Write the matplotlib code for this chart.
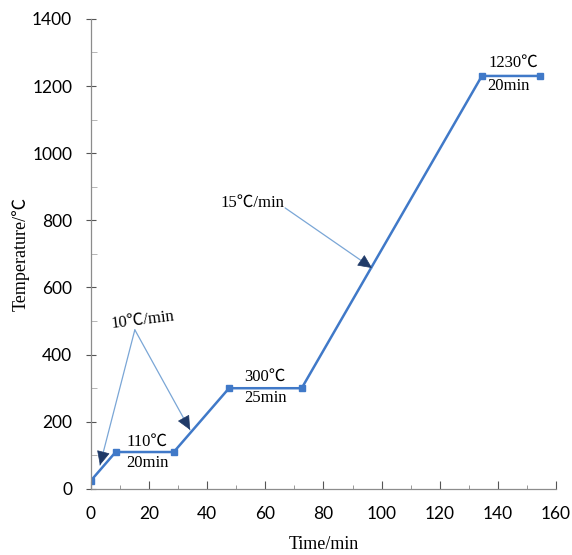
import matplotlib
matplotlib.use("Agg")
import matplotlib.pyplot as plt
from matplotlib.ticker import MultipleLocator

# heating programme (time in min, temperature in degC)
time_min = [0, 8.5, 28.5, 47.5, 72.5, 134.5, 154.5]
temp_c = [25, 110, 110, 300, 300, 1230, 1230]

# plateau labels: (text, x, y)
hold_labels = [
    ("110℃", 19.3, 140), ("20min", 19.3, 77),
    ("300℃", 60.0, 334), ("25min", 60.0, 271),
    ("1230℃", 145.2, 1269), ("20min", 143.5, 1200),
]

serif = ["Liberation Serif", "Noto Sans CJK SC", "DejaVu Serif"]
sans = ["Lato", "DejaVu Sans"]

line_col = "#4079c8"
arrow_col = "#7aa6d6"
head_col = "#1f3a68"

fig = plt.figure(figsize=(5.72, 5.55), dpi=100)
ax = fig.add_axes([0.159, 0.119, 0.813, 0.847])

ax.plot(time_min, temp_c, color=line_col, lw=1.8, marker="s", ms=5,
        markerfacecolor=line_col, markeredgecolor=line_col)

for txt, x, y in hold_labels:
    ax.text(x, y, txt, ha="center", va="center", fontsize=12, family=serif)


def arrow(ax, start, end):
    # thin light shaft plus dark filled head
    ax.annotate("", xy=end, xytext=start,
                arrowprops=dict(arrowstyle="-", color=arrow_col, lw=0.9,
                                shrinkA=0, shrinkB=0))
    f = 0.06
    mid = (end[0] - f * (end[0] - start[0]), end[1] - f * (end[1] - start[1]))
    ax.annotate("", xy=end, xytext=mid,
                arrowprops=dict(arrowstyle="-|>,head_length=0.9,head_width=0.42",
                                color=head_col, lw=0.5, shrinkA=0, shrinkB=0))


apex = (15.1, 474)
arrow(ax, apex, (3.1, 71))
arrow(ax, apex, (34.1, 176))
ax.text(17.9, 503, "10℃/min", ha="center", va="center", fontsize=12,
        family=serif, rotation=7)

arrow(ax, (66.8, 837), (96.7, 658))
ax.text(55.5, 853, "15℃/min", ha="center", va="center", fontsize=12, family=serif)

ax.set_xlim(0, 160)
ax.set_ylim(0, 1400)
ax.xaxis.set_major_locator(MultipleLocator(20))
ax.xaxis.set_minor_locator(MultipleLocator(10))
ax.yaxis.set_major_locator(MultipleLocator(200))
ax.yaxis.set_minor_locator(MultipleLocator(100))

for s in ["top", "right"]:
    ax.spines[s].set_visible(False)
for s in ["left", "bottom"]:
    ax.spines[s].set_color("#8c8c8c")
    ax.spines[s].set_linewidth(0.9)

ax.tick_params(axis="x", which="major", direction="in", length=6, color="#555555",
               pad=12, labelsize=12.5)
ax.tick_params(axis="x", which="minor", direction="in", length=3, color="#888888")
ax.tick_params(axis="y", which="major", direction="inout", length=7, color="#555555",
               pad=10, labelsize=12.5)
ax.tick_params(axis="y", which="minor", direction="in", length=4, color="#aaaaaa")
for lab in ax.get_xticklabels() + ax.get_yticklabels():
    lab.set_family(sans)

ax.set_xlabel("Time/min", family=serif, fontsize=13, labelpad=10)
ax.set_ylabel("Temperature/℃", family=serif, fontsize=13, labelpad=2)

fig.savefig("out.png", dpi=100)
